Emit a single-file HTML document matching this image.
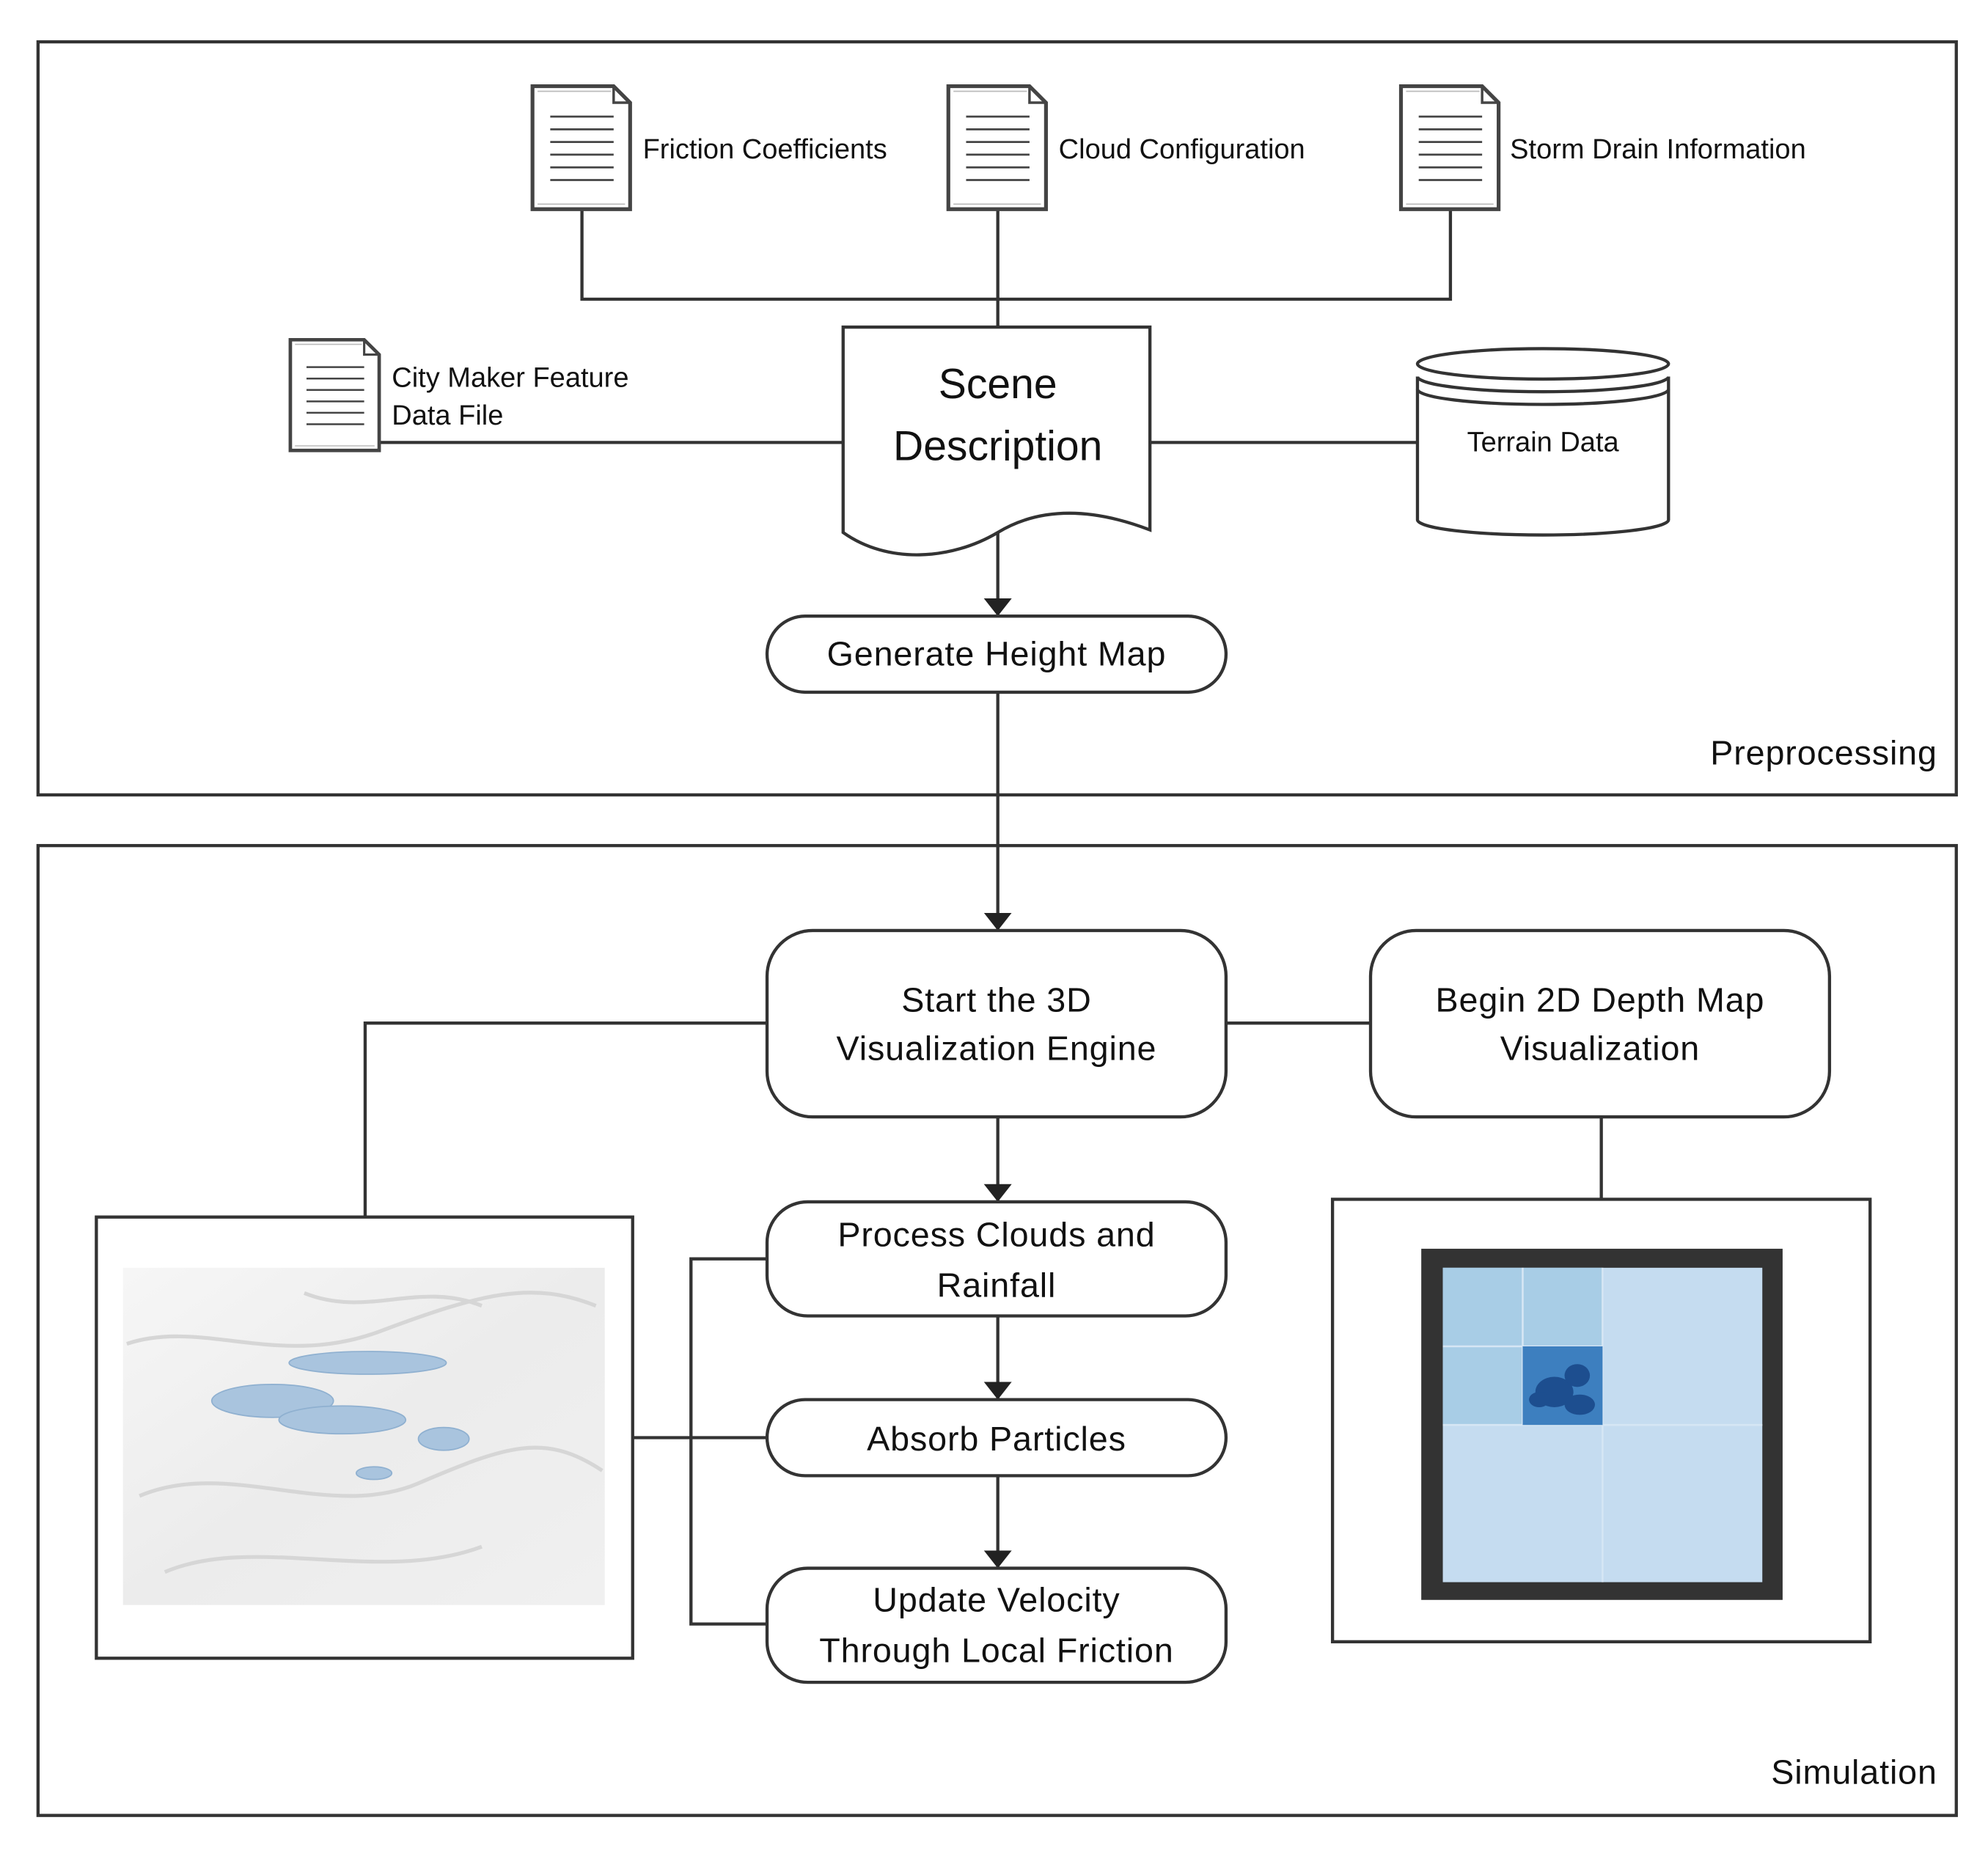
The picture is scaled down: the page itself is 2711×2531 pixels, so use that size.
<!DOCTYPE html>
<html><head><meta charset="utf-8"><style>
html,body{margin:0;padding:0;background:#fff;}
svg{display:block;}
text{font-family:"Liberation Sans","DejaVu Sans",sans-serif;fill:#111;}
</style></head><body>
<svg width="2711" height="2531" viewBox="0 0 1568 1464" preserveAspectRatio="none" xmlns="http://www.w3.org/2000/svg">
<defs>
<marker id="ah" markerWidth="14" markerHeight="22" refX="13" refY="11" orient="auto" markerUnits="userSpaceOnUse">
<path d="M0,0 L14,11 L0,22 z" fill="#222"/></marker>
<linearGradient id="hg" x1="0" y1="0" x2="1" y2="1">
<stop offset="0" stop-color="#f6f6f6"/><stop offset="0.5" stop-color="#ececec"/><stop offset="1" stop-color="#f0f0f0"/></linearGradient>
<g id="doc">
<path d="M0,0 H64 L77,13 V97 H0 Z" fill="#fff" stroke="#444" stroke-width="3"/>
<path d="M64,0 V13 H77" fill="none" stroke="#444" stroke-width="2"/>
<path d="M4,4 H62 M4,93 H73" stroke="#bbb" stroke-width="1"/>
<g stroke="#444" stroke-width="1.6">
<line x1="14" y1="24" x2="64" y2="24"/><line x1="14" y1="34" x2="64" y2="34"/>
<line x1="14" y1="44" x2="64" y2="44"/><line x1="14" y1="54" x2="64" y2="54"/>
<line x1="14" y1="64" x2="64" y2="64"/><line x1="14" y1="74" x2="64" y2="74"/></g>
</g>
</defs>
<rect width="1568" height="1464" fill="#fff"/>
<g fill="none" stroke="#333" stroke-width="2.5">
<rect x="30" y="33" width="1513" height="594"/>
<rect x="30" y="667" width="1513" height="765"/>
</g>
<g stroke="#333" stroke-width="2.5" fill="none">
<path d="M459,165 V236 H1144 V165 M787,165 V258"/>
<path d="M299,349 H665 M907,349 H1118"/>
<path d="M787,420 V485" marker-end="url(#ah)"/>
<path d="M787,546 V733" marker-end="url(#ah)"/>
<path d="M967,807 H1081 M605,807 H288 V960 M1263,881 V946"/>
<path d="M787,881 V947" marker-end="url(#ah)"/>
<path d="M787,1038 V1103" marker-end="url(#ah)"/>
<path d="M787,1164 V1236" marker-end="url(#ah)"/>
<path d="M605,993 H545 V1281 H605 M499,1134 H605"/>
</g>
<use href="#doc" x="420" y="68"/>
<use href="#doc" x="748" y="68"/>
<use href="#doc" x="1105" y="68"/>
<g transform="translate(229,268) scale(0.91,0.9)"><use href="#doc"/></g>
<path d="M665,258 H907 V418 C860,400 820,400 787,420 C750,442 700,445 665,420 Z" fill="#fff" stroke="#333" stroke-width="2.5"/>
<text x="787" y="314" font-size="33" text-anchor="middle">Scene</text>
<text x="787" y="363" font-size="33" text-anchor="middle">Description</text>
<g fill="#fff" stroke="#333" stroke-width="2.5">
<path d="M1118,297 V410 A99,12 0 0 0 1316,410 V297"/>
<ellipse cx="1217" cy="287" rx="99" ry="12"/>
<path d="M1118,297 A99,12 0 0 0 1316,297" fill="none"/>
<path d="M1118,307 A99,12 0 0 0 1316,307" fill="none"/>
</g>
<g font-size="22">
<text x="507" y="125">Friction Coefficients</text>
<text x="835" y="125">Cloud Configuration</text>
<text x="1191" y="125">Storm Drain Information</text>
<text x="309" y="305">City Maker Feature</text>
<text x="309" y="335">Data File</text>
<text x="1217" y="356" text-anchor="middle">Terrain Data</text>
</g>
<g fill="#fff" stroke="#333" stroke-width="2.5">
<rect x="605" y="486" width="362" height="60" rx="30"/>
<rect x="605" y="734" width="362" height="147" rx="36"/>
<rect x="1081" y="734" width="362" height="147" rx="36"/>
<rect x="605" y="948" width="362" height="90" rx="32"/>
<rect x="605" y="1104" width="362" height="60" rx="30"/>
<rect x="605" y="1237" width="362" height="90" rx="32"/>
</g>
<g font-size="27" text-anchor="middle" letter-spacing="0.5">
<text x="786" y="525">Generate Height Map</text>
<text x="786" y="798">Start the 3D</text>
<text x="786" y="836">Visualization Engine</text>
<text x="1262" y="798">Begin 2D Depth Map</text>
<text x="1262" y="836">Visualization</text>
<text x="786" y="983">Process Clouds and</text>
<text x="786" y="1023">Rainfall</text>
<text x="786" y="1144">Absorb Particles</text>
<text x="786" y="1271">Update Velocity</text>
<text x="786" y="1311">Through Local Friction</text>
<text x="1528" y="603" text-anchor="end">Preprocessing</text>
<text x="1528" y="1407" text-anchor="end">Simulation</text>
</g>
<rect x="76" y="960" width="423" height="348" fill="#fff" stroke="#333" stroke-width="2.5"/>
<rect x="97" y="1000" width="380" height="266" fill="url(#hg)"/>
<g fill="none" stroke="#d6d6d6" stroke-width="3">
<path d="M100,1060 C160,1040 220,1080 300,1050 S420,1010 470,1030"/>
<path d="M110,1180 C180,1150 260,1200 330,1170 S430,1130 475,1160"/>
<path d="M130,1240 C200,1210 300,1250 380,1220"/>
<path d="M240,1020 C290,1040 330,1010 380,1030"/>
</g>
<g fill="#a9c4de" stroke="#8fb0d0" stroke-width="1">
<ellipse cx="290" cy="1075" rx="62" ry="9"/>
<ellipse cx="215" cy="1105" rx="48" ry="13"/>
<ellipse cx="270" cy="1120" rx="50" ry="11"/>
<ellipse cx="350" cy="1135" rx="20" ry="9"/>
<ellipse cx="295" cy="1162" rx="14" ry="5"/>
</g>
<rect x="1051" y="946" width="424" height="349" fill="#fff" stroke="#333" stroke-width="2.5"/>
<rect x="1121" y="985" width="285" height="277" fill="#333"/>
<rect x="1138" y="1000" width="252" height="248" fill="#c5dcf0"/>
<rect x="1138" y="1000" width="126" height="124" fill="#a8cde6"/>
<g stroke="#d6e6f4" stroke-width="1.5">
<line x1="1264" y1="1000" x2="1264" y2="1248"/><line x1="1138" y1="1124" x2="1390" y2="1124"/>
<line x1="1201" y1="1000" x2="1201" y2="1124"/><line x1="1138" y1="1062" x2="1264" y2="1062"/>
</g>
<rect x="1201" y="1062" width="63" height="62" fill="#3d7fbf"/>
<g fill="#1d4e8f">
<ellipse cx="1226" cy="1098" rx="15" ry="12"/>
<ellipse cx="1244" cy="1085" rx="10" ry="9"/>
<ellipse cx="1246" cy="1108" rx="12" ry="8"/>
<ellipse cx="1214" cy="1104" rx="8" ry="6"/>
</g>
</svg>
</body></html>
